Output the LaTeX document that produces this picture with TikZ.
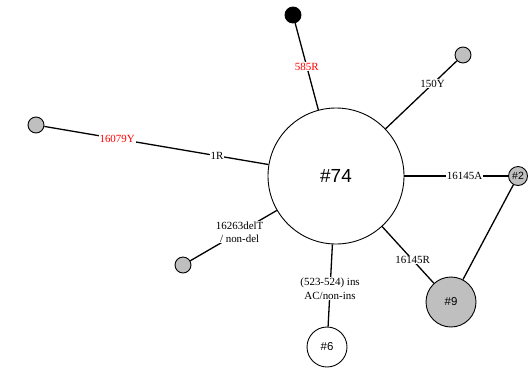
\documentclass[tikz,border=0pt]{standalone}
\usepackage{fontspec}
\setmainfont{Liberation Serif}
\newfontfamily\hapfont{Liberation Sans}
\usetikzlibrary{positioning}
\newcommand*{\mutsize}{\fontsize{11}{13.5}\selectfont}
\newcommand*{\hapsize}{\hapfont\fontsize{11.5}{12}\selectfont}

\begin{document}
\begin{tikzpicture}[x=1bp,y=-1bp,
  hap/.style={circle,draw,line width=0.9bp,inner sep=0pt,font=\hapsize},
  tip/.style={hap,minimum size=16bp,fill=black!25},
  edge/.style={line width=1.3bp},
  mut/.style={fill=white,inner sep=0.8bp,font=\mutsize,align=center}]
\useasboundingbox (0,0) rectangle (530,368);
% Haplotypes
\node[hap,minimum size=136bp,font=\hapfont\fontsize{19}{20}\selectfont] (h74) at (336,176) {\#74};
\node[hap,minimum size=40bp] (h6) at (327,347) {\#6};
\node[hap,minimum size=50bp,fill=black!25] (h9) at (451,302) {\#9};
\node[hap,minimum size=19bp,fill=black!25,font=\hapfont\fontsize{10.5}{11}\selectfont] (h2) at (518,176) {\#2};
\node[tip,fill=black] (top) at (293,15) {};
\node[tip] (right) at (463,55) {};
\node[tip] (left) at (36,125) {};
\node[tip] (low) at (183,265) {};
% Mutations
\draw[edge] (top) -- node[mut,pos=.5,text=red] {585R} (h74);
\draw[edge] (right) -- node[mut,pos=.34] {150Y} (h74);
\draw[edge] (left) -- node[mut,pos=.325,text=red] {16079Y}
                      node[mut,pos=.77] {1R} (h74);
\draw[edge] (h74) -- node[mut,pos=.58] {16145A} (h2);
\draw[edge] (h74) -- node[mut,pos=.59] {16145R} (h9);
\draw[edge] (h74) -- node[mut,pos=.43] {16263delT\\ / non-del} (low);
\draw[edge] (h74) -- node[mut,pos=.54] {(523-524) ins\\ AC/non-ins} (h6);
\draw[edge] (h2) -- (h9);
\end{tikzpicture}
\end{document}
